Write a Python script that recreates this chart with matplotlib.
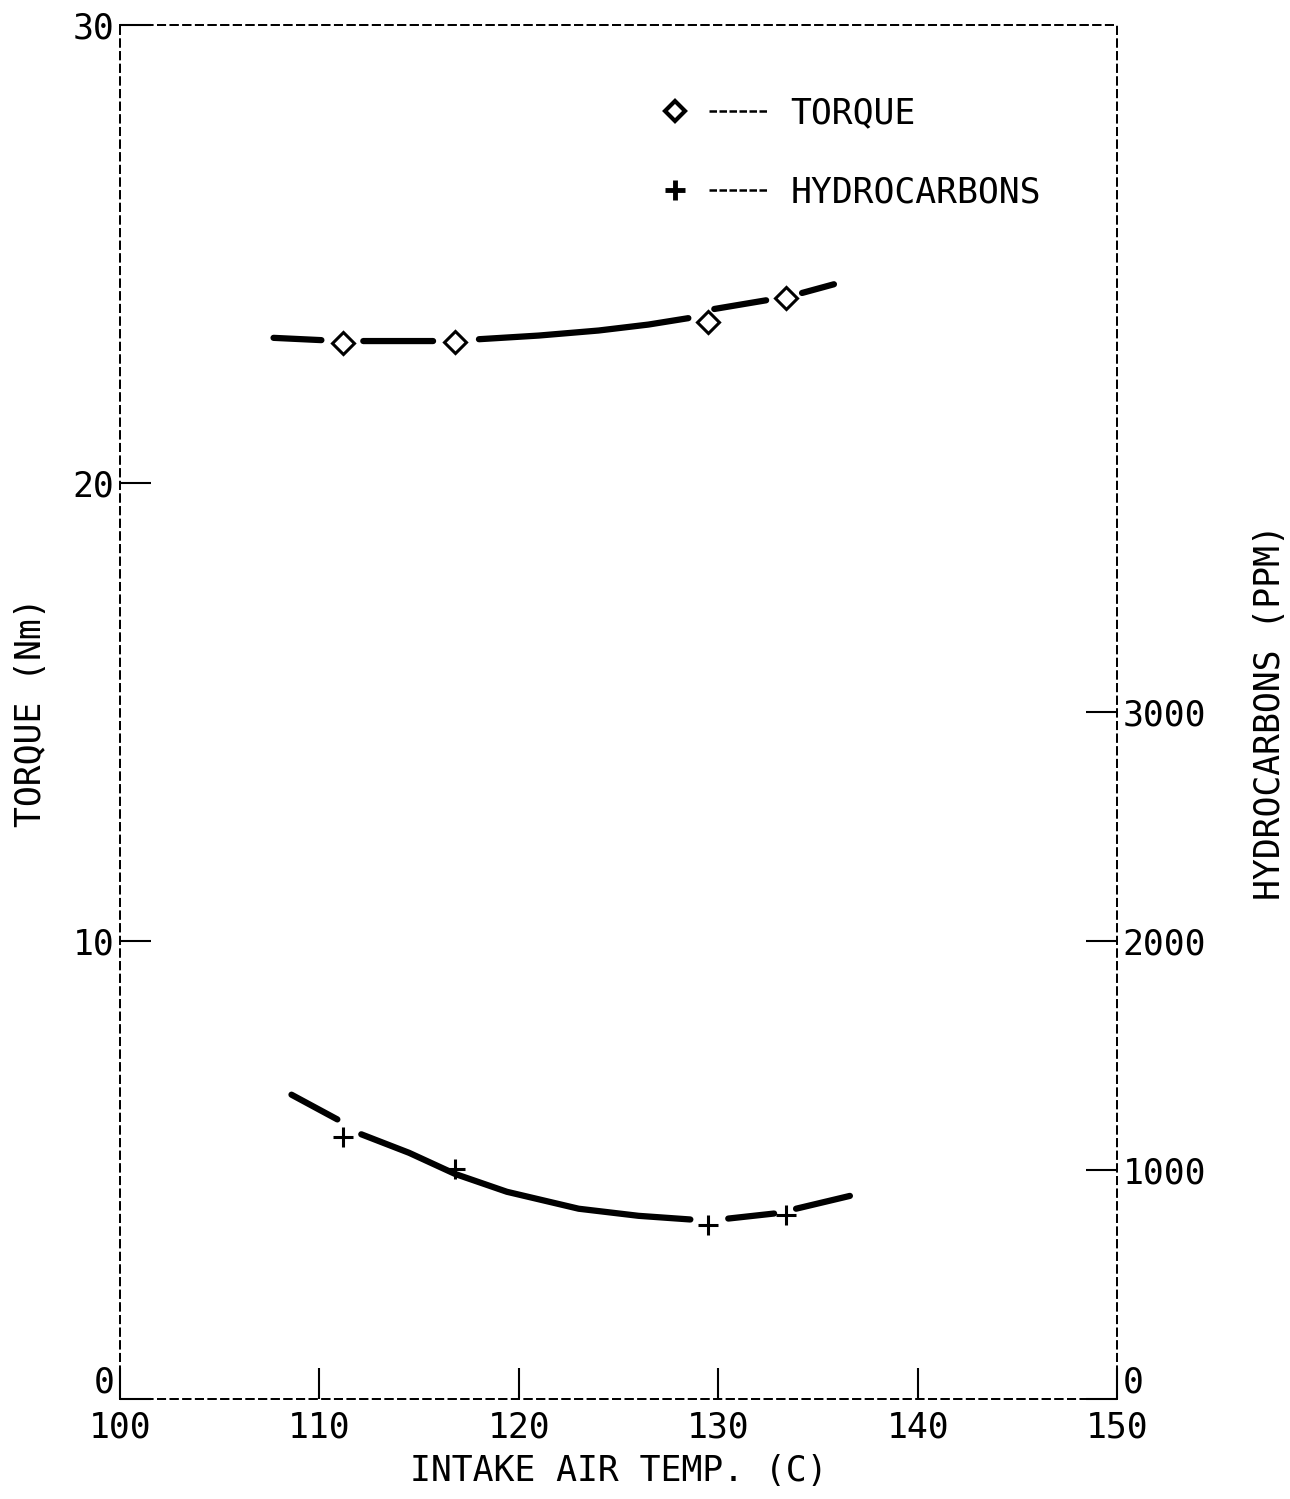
import matplotlib.pyplot as plt
from matplotlib.lines import Line2D
from matplotlib.legend_handler import HandlerTuple

nan = float('nan')

# measured points
temp = [111.2, 116.8, 129.5, 133.4]
torque = [23.06, 23.08, 23.52, 24.04]
hc = [1143, 1004, 758, 805]

# fitted curves as the plotter drew them (nan = pen lifted)
torque_fit_x = [107.7, 110.1, nan, 112.2, 115.7, nan, 118.0, 121.0, 124.0, 126.5, 128.5, nan,
                129.8, 132.4, nan, 134.2, 135.8]
torque_fit_y = [23.17, 23.12, nan, 23.10, 23.10, nan, 23.14, 23.22, 23.33, 23.46, 23.60, nan,
                23.80, 23.99, nan, 24.15, 24.34]
hc_fit_x = [108.6, 110.9, nan, 112.1, 114.5, 116.8, 119.4, 123.0, 126.0, 128.6, nan,
            130.5, 132.8, nan, 133.9, 136.6]
hc_fit_y = [1329, 1221, nan, 1156, 1075, 983, 905, 831, 800, 784, nan,
            788, 810, nan, 831, 887]

x_ticks = [100, 110, 120, 130, 140, 150]
torque_ticks = [0, 10, 20, 30]
hc_ticks = [0, 1000, 2000, 3000]

plt.rcParams['font.family'] = 'DejaVu Sans Mono'
plt.rcParams['font.size'] = 25

fig = plt.figure(figsize=(12.9, 14.99), dpi=100)
ax = fig.add_axes([0.093, 0.0667, 0.773, 0.9166])
ax2 = ax.twinx()

ax.plot(torque_fit_x, torque_fit_y, color='black', lw=4.5, solid_capstyle='round')
ax.plot(temp, torque, 'D', ms=11, mfc='white', mec='black', mew=2.2)
ax2.plot(hc_fit_x, hc_fit_y, color='black', lw=4.5, solid_capstyle='round')
ax2.plot(temp, hc, '+', ms=15, mec='black', mew=2.2)

ax.set_xlim(100, 150)
ax.set_ylim(0, 30)
ax2.set_ylim(0, 6000)
ax.set_xticks(x_ticks)
ax.set_xticklabels([str(t) for t in x_ticks])
ax.set_yticks(torque_ticks)
ax2.set_yticks(hc_ticks)

ax.tick_params(axis='both', direction='in', length=22, width=1.5, pad=4)
ax.tick_params(axis='x', pad=8)
ax2.tick_params(axis='y', direction='in', length=22, width=1.5, pad=4)

# the zero labels sit just above the corner, clear of the x labels
ax.get_yticklabels()[0].set_verticalalignment('bottom')
ax2.get_yticklabels()[0].set_verticalalignment('bottom')

for a in (ax, ax2):
    for s in a.spines.values():
        s.set_linestyle((0, (4, 3)))
        s.set_linewidth(1.3)

ax.set_xlabel('INTAKE AIR TEMP. (C)', labelpad=7)
ax.set_ylabel('TORQUE (Nm)', labelpad=18)
ax2.set_ylabel('HYDROCARBONS (PPM)', labelpad=34)

h1 = (Line2D([], [], marker='D', ls='none', ms=10, mfc='white', mec='black', mew=3),
      Line2D([], [], color='black', ls=(0, (3, 1)), lw=1.8))
h2 = (Line2D([], [], marker='+', ls='none', ms=14, mec='black', mew=3.5),
      Line2D([], [], color='black', ls=(0, (3, 1)), lw=1.8))
ax.legend([h1, h2], ['TORQUE', 'HYDROCARBONS'],
          handler_map={tuple: HandlerTuple(ndivide=None, pad=0.1)},
          loc='upper left', bbox_to_anchor=(0.526, 0.948), frameon=False,
          handlelength=3.6, handletextpad=0.6, labelspacing=1.3, borderpad=0,
          borderaxespad=0)

fig.savefig('out.png', dpi=100)
